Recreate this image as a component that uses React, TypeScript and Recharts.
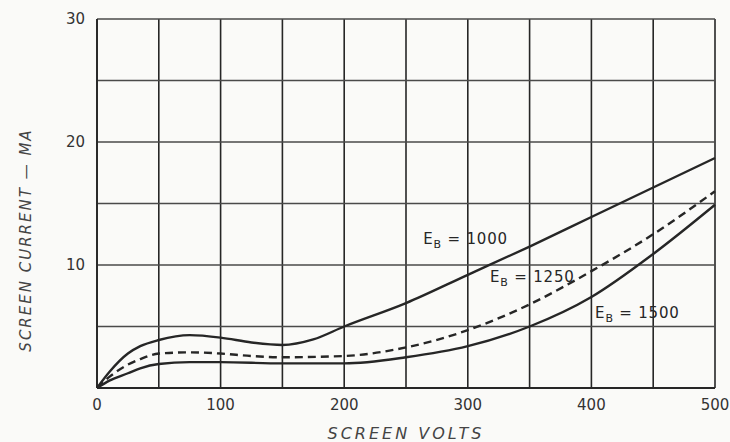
import React from 'react';
import { LineChart, Line, XAxis, YAxis, CartesianGrid, ReferenceDot } from 'recharts';

// screen volts / screen current (mA)
const eb1000Volts = [0, 10, 25, 35, 50, 75, 100, 125, 150, 175, 200, 250, 300, 350, 400, 450, 500];
const eb1000Ma = [0, 1.3, 2.8, 3.4, 3.9, 4.3, 4.1, 3.7, 3.5, 3.95, 5.0, 6.9, 9.2, 11.5, 13.9, 16.3, 18.7];

const eb1250Volts = [0, 10, 25, 35, 50, 75, 100, 125, 150, 200, 250, 300, 350, 400, 450, 500];
const eb1250Ma = [0, 0.9, 1.9, 2.35, 2.8, 2.9, 2.8, 2.6, 2.5, 2.6, 3.3, 4.7, 6.8, 9.5, 12.5, 16.0];

const eb1500Volts = [0, 10, 25, 35, 50, 75, 100, 150, 200, 250, 300, 350, 400, 450, 500];
const eb1500Ma = [0, 0.6, 1.2, 1.6, 1.95, 2.1, 2.1, 2.0, 2.0, 2.5, 3.4, 5.0, 7.4, 10.9, 14.9];

const xTicks = [0, 50, 100, 150, 200, 250, 300, 350, 400, 450, 500];
const yTicks = [0, 5, 10, 15, 20, 25, 30];

// where the E_B captions sit (volts, mA)
const curveLabels = [
  { eb: '1000', x: 264, y: 12.1 },
  { eb: '1250', x: 318, y: 9.0 },
  { eb: '1500', x: 403, y: 6.1 },
];

const zip = (xs: number[], ys: number[]) => xs.map((v, i) => ({ v, ma: ys[i] }));

const ink = '#262626';
const font = '"DejaVu Sans", sans-serif';

const CurveLabel = ({ cx, cy, eb }: any) => (
  <text x={cx} y={cy} dy={5} fill={ink} fontFamily={font} fontSize={15} letterSpacing={0.8}>
    E
    <tspan fontSize={11} dy={4}>B</tspan>
    <tspan dy={-4}>{` = ${eb}`}</tspan>
  </text>
);

const YTitle = () => (
  <text
    x={26}
    y={240}
    transform="rotate(-90 26 240)"
    textAnchor="middle"
    dominantBaseline="middle"
    fill="#444"
    fontFamily={font}
    fontSize={15}
    fontStyle="italic"
    letterSpacing={2}
  >
    SCREEN CURRENT — MA
  </text>
);

export default function App() {
  return (
    <div style={{ position: 'absolute', left: 0, top: 0, width: 730, height: 442, background: '#fafaf8' }}>
      <LineChart width={730} height={442} margin={{ top: 19, right: 15, bottom: 0, left: 0 }}>
        <CartesianGrid horizontal={false} stroke={ink} strokeWidth={1.6} strokeOpacity={1} />
        <CartesianGrid vertical={false} stroke="#4a4a4a" strokeWidth={1.3} strokeOpacity={1} />
        <XAxis
          type="number"
          dataKey="v"
          domain={[0, 500]}
          ticks={xTicks}
          tickFormatter={(t) => (t % 100 === 0 ? String(t) : '')}
          tickLine={false}
          axisLine={{ stroke: ink, strokeWidth: 1.8 }}
          tick={{ fill: '#333', fontFamily: font, fontSize: 15 }}
          tickMargin={5}
          height={54}
          label={{
            value: 'SCREEN VOLTS',
            position: 'insideBottom',
            offset: 3,
            style: { fill: '#444', fontFamily: font, fontSize: 16, fontStyle: 'italic', letterSpacing: 3 },
          }}
        />
        <YAxis
          type="number"
          domain={[0, 30]}
          ticks={yTicks}
          tickFormatter={(t) => (t > 0 && t % 10 === 0 ? String(t) : '')}
          tickLine={false}
          axisLine={{ stroke: ink, strokeWidth: 1.8 }}
          tick={{ fill: '#333', fontFamily: font, fontSize: 15 }}
          tickMargin={6}
          width={97}
          label={{ content: () => <YTitle /> }}
        />
        <Line
          data={zip(eb1000Volts, eb1000Ma)}
          dataKey="ma"
          type="monotone"
          stroke={ink}
          strokeWidth={2.4}
          dot={false}
          isAnimationActive={false}
        />
        <Line
          data={zip(eb1250Volts, eb1250Ma)}
          dataKey="ma"
          type="monotone"
          stroke={ink}
          strokeWidth={2.4}
          strokeDasharray="8 5"
          dot={false}
          isAnimationActive={false}
        />
        <Line
          data={zip(eb1500Volts, eb1500Ma)}
          dataKey="ma"
          type="monotone"
          stroke={ink}
          strokeWidth={2.4}
          dot={false}
          isAnimationActive={false}
        />
        {curveLabels.map((l) => (
          <ReferenceDot
            key={l.eb}
            x={l.x}
            y={l.y}
            r={1}
            isFront
            shape={(p: any) => <CurveLabel cx={p.cx} cy={p.cy} eb={l.eb} />}
          />
        ))}
      </LineChart>
    </div>
  );
}
